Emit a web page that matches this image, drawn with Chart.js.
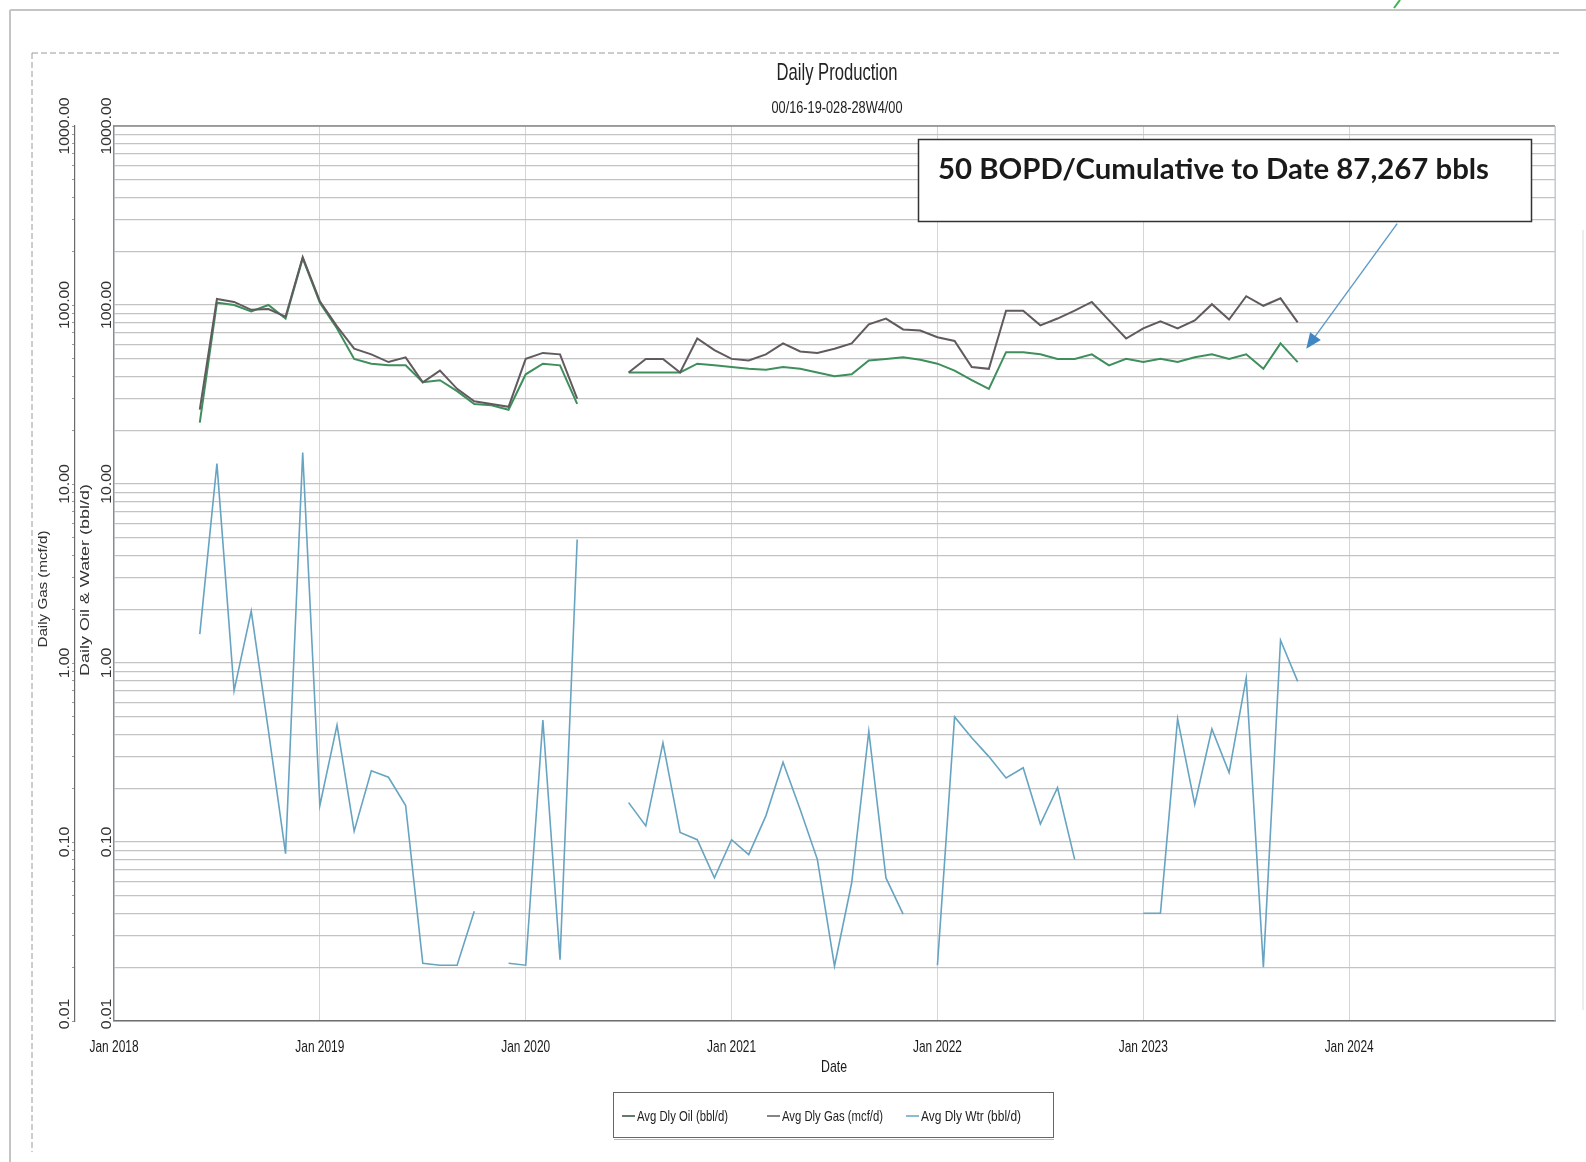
<!DOCTYPE html>
<html>
<head>
<meta charset="utf-8">
<script src="https://cdn.jsdelivr.net/npm/chart.js@4.4.1/dist/chart.umd.min.js"></script>
<style>
  html, body { margin: 0; padding: 0; background: #fff; }
  canvas { display: block; }
</style>
</head>
<body>
<canvas id="prod" width="1586" height="1162"></canvas>
<script>
// Reporting months for well 00/16-19-028-28W4/00
const months = [
  '2018-06','2018-07','2018-08','2018-09','2018-10','2018-11','2018-12',
  '2019-01','2019-02','2019-03','2019-04','2019-05','2019-06','2019-07','2019-08','2019-09','2019-10','2019-11','2019-12',
  '2020-01','2020-02','2020-03','2020-04','2020-05','2020-06','2020-07','2020-08','2020-09','2020-10','2020-11','2020-12',
  '2021-01','2021-02','2021-03','2021-04','2021-05','2021-06','2021-07','2021-08','2021-09','2021-10','2021-11','2021-12',
  '2022-01','2022-02','2022-03','2022-04','2022-05','2022-06','2022-07','2022-08','2022-09','2022-10','2022-11','2022-12',
  '2023-01','2023-02','2023-03','2023-04','2023-05','2023-06','2023-07','2023-08','2023-09','2023-10'
];

// Average daily oil (bbl/d); null = no production reported
const oilBbld = [
  22, 103, 100, 92, 100, 84, 182,
  103, 74, 50, 47, 46, 46, 37, 38, 33, 28, 27.5, 26,
  41, 47, 46, 28, null, null, 42, 42, 42, 42, 47, 46,
  45, 44, 43.5, 45, 44, 42, 40, 41, 49, 50, 51, 49.5,
  47, 43, 38, 34, 54.5, 54.5, 53, 50, 50, 53, 46, 50,
  48, 50, 48, 51, 53, 50, 53, 44, 61, 48
];

// Average daily gas (mcf/d)
const gasMcfd = [
  26, 108, 104, 94, 95, 86, 185,
  105, 76, 57, 53, 48, 51, 37, 43, 34, 29, 28, 27,
  50, 54, 53, 30, null, null, 42, 50, 50, 42, 65, 56,
  50, 49, 53, 61, 55, 54, 57, 61, 78, 84, 73, 72,
  66, 63, 45, 44, 93, 93, 77, 84, 93, 104, 82, 65,
  74, 81, 74, 82, 101, 83, 112, 99, 109, 80
];

// Average daily water (bbl/d)
const waterBbld = [
  1.45, 13, 0.7, 1.95, 0.42, 0.086, 15,
  0.16, 0.45, 0.115, 0.25, 0.23, 0.16, 0.021, 0.0205, 0.0205, 0.041, null, 0.021,
  0.0205, 0.48, 0.022, 4.9, null, null, 0.166, 0.123, 0.358, 0.113, 0.103, 0.063,
  0.103, 0.085, 0.14, 0.279, 0.152, 0.08, 0.0203, 0.059, 0.416, 0.063, 0.0395, null,
  0.0205, 0.5, 0.382, 0.3, 0.228, 0.26, 0.126, 0.201, 0.08, null, null, null,
  0.04, 0.04, 0.487, 0.162, 0.428, 0.244, 0.825, 0.02, 1.34, 0.79
];

// Axis ticks
const yearTickLabels = ['Jan 2018','Jan 2019','Jan 2020','Jan 2021','Jan 2022','Jan 2023','Jan 2024'];
const yearTickMonths = [0, 12, 24, 36, 48, 60, 72, 84];
const logDecades = [0.01, 0.1, 1, 10, 100, 1000];
const decadeLabels = ['0.01', '0.10', '1.00', '10.00', '100.00', '1000.00'];
const gridSignificands = [1, 2, 3, 4, 5, 6, 7, 8, 9];

const annotationText = '50 BOPD/Cumulative to Date 87,267 bbls';

// months since Jan 2018
function monthIndex(s) {
  const [y, m] = s.split('-').map(Number);
  return (y - 2018) * 12 + (m - 1);
}
function toPoints(values) {
  return months.map((m, i) => ({ x: monthIndex(m), y: values[i] }));
}

// every 1..9 x 10^k line between 0.01 and 1000
function logGridTicks() {
  const out = [];
  for (let d = 0; d < logDecades.length - 1; d++) {
    for (const s of gridSignificands) out.push({ value: +(logDecades[d] * s).toPrecision(6) });
  }
  out.push({ value: logDecades[logDecades.length - 1] });
  return out;
}

const BASE_FONT = '"Liberation Sans", Arial, sans-serif';

// draw text squeezed/stretched horizontally to a target width
function fitText(ctx, text, x, y, font, targetW, align, rot) {
  ctx.save();
  ctx.font = font;
  const w = ctx.measureText(text).width;
  ctx.translate(x, y);
  if (rot) ctx.rotate(rot);
  ctx.scale(targetW / w, 1);
  ctx.textAlign = align || 'center';
  ctx.textBaseline = 'middle';
  ctx.fillText(text, 0, 0);
  ctx.restore();
}
function scaledText(ctx, text, x, y, font, sx, align, rot) {
  ctx.save();
  ctx.font = font;
  ctx.translate(x, y);
  if (rot) ctx.rotate(rot);
  ctx.scale(sx, 1);
  ctx.textAlign = align || 'center';
  ctx.textBaseline = 'middle';
  ctx.fillText(text, 0, 0);
  ctx.restore();
}

const decor = {
  id: 'decor',
  beforeDraw(chart) {
    const ctx = chart.ctx;
    ctx.save();
    ctx.fillStyle = '#fff';
    ctx.fillRect(0, 0, chart.width, chart.height);
    // page edges
    ctx.strokeStyle = '#c4c4c4';
    ctx.lineWidth = 2;
    ctx.beginPath();
    ctx.moveTo(10, 10); ctx.lineTo(1586, 10);
    ctx.moveTo(10, 10); ctx.lineTo(10, 1162);
    ctx.stroke();
    // outer chart frame (dashed)
    ctx.strokeStyle = '#9a9a9a';
    ctx.lineWidth = 1;
    ctx.setLineDash([6, 3]);
    ctx.beginPath();
    ctx.moveTo(32, 53); ctx.lineTo(1562, 53);
    ctx.moveTo(32, 53); ctx.lineTo(32, 1152);
    ctx.stroke();
    ctx.setLineDash([]);
    ctx.strokeStyle = '#dcdcdc';
    ctx.beginPath();
    ctx.moveTo(1583, 230); ctx.lineTo(1583, 1010);
    ctx.stroke();
    // small green mark at the page top
    ctx.strokeStyle = '#3fb34f';
    ctx.lineWidth = 2;
    ctx.beginPath();
    ctx.moveTo(1400, 0); ctx.lineTo(1394, 8);
    ctx.stroke();
    ctx.restore();
  },
  afterDraw(chart) {
    const ctx = chart.ctx;
    const a = chart.chartArea;
    const xs = chart.scales.x, ys = chart.scales.y, y2 = chart.scales.y2;
    ctx.save();

    // plot frame top / right
    ctx.strokeStyle = '#8a8a8a';
    ctx.lineWidth = 1.5;
    ctx.beginPath();
    ctx.moveTo(a.left, a.top); ctx.lineTo(a.right, a.top);
    ctx.stroke();
    ctx.strokeStyle = '#b8c4ca';
    ctx.lineWidth = 1;
    ctx.beginPath();
    ctx.moveTo(a.right, a.top); ctx.lineTo(a.right, a.bottom);
    ctx.stroke();

    // title block
    ctx.fillStyle = '#222';
    fitText(ctx, 'Daily Production', 837, 73, '24px ' + BASE_FONT, 121);
    fitText(ctx, '00/16-19-028-28W4/00', 837, 108, '17px ' + BASE_FONT, 131);

    // y tick labels, rotated (two stacked axes)
    ctx.fillStyle = '#333';
    ctx.font = '14px ' + BASE_FONT;
    const tickScale = 57 / ctx.measureText('1000.00').width;
    logDecades.forEach((v, i) => {
      let py = ys.getPixelForValue(v);
      if (i === 0) py -= 7;
      scaledText(ctx, decadeLabels[i], 107, py, '14px ' + BASE_FONT, tickScale, 'center', -Math.PI / 2);
      let py2 = y2.getPixelForValue(v);
      if (i === 0) py2 -= 7;
      scaledText(ctx, decadeLabels[i], 65, py2, '14px ' + BASE_FONT, tickScale, 'center', -Math.PI / 2);
    });
    // y axis titles
    ctx.fillStyle = '#333';
    fitText(ctx, 'Daily Gas (mcf/d)', 43, 589, '13px ' + BASE_FONT, 117, 'center', -Math.PI / 2);
    fitText(ctx, 'Daily Oil & Water (bbl/d)', 85, 580, '13px ' + BASE_FONT, 192, 'center', -Math.PI / 2);

    // x tick labels
    ctx.fillStyle = '#1a1a1a';
    ctx.font = '17px ' + BASE_FONT;
    const xScaleF = 49 / ctx.measureText('Jan 2019').width;
    yearTickLabels.forEach((t, i) => {
      scaledText(ctx, t, xs.getPixelForValue(yearTickMonths[i]), 1047, '17px ' + BASE_FONT, xScaleF);
    });
    fitText(ctx, 'Date', 834, 1067, '17px ' + BASE_FONT, 26);

    // legend box
    ctx.strokeStyle = '#666';
    ctx.lineWidth = 1;
    ctx.strokeRect(613.5, 1092.5, 440, 45);
    ctx.strokeStyle = '#bbb';
    ctx.beginPath();
    ctx.moveTo(614, 1139.5); ctx.lineTo(1054, 1139.5);
    ctx.stroke();
    const legendX = [622, 767, 906];
    const legendW = [91, 101, 100];
    chart.data.datasets.forEach((ds, i) => {
      const lx = legendX[i];
      ctx.strokeStyle = i === 0 ? '#2f4f3c' : ds.borderColor;
      ctx.lineWidth = 1.5;
      ctx.beginPath();
      ctx.moveTo(lx, 1116); ctx.lineTo(lx + 13, 1116);
      ctx.stroke();
      ctx.fillStyle = '#222';
      fitText(ctx, ds.label, lx + 15, 1117, '15px ' + BASE_FONT, legendW[i], 'left');
    });

    // annotation box
    ctx.fillStyle = '#fff';
    ctx.fillRect(918, 139, 613, 82);
    ctx.strokeStyle = '#333';
    ctx.lineWidth = 1.5;
    ctx.strokeRect(918.5, 139.5, 613, 82);
    ctx.fillStyle = '#1a1a1a';
    fitText(ctx, annotationText, 938, 170, 'bold 28px Lato, "Open Sans", sans-serif', 551, 'left');

    // arrow pointing at the latest oil rate
    const tx = xs.getPixelForValue(69.5), ty = ys.getPixelForValue(57);
    const sx = xs.getPixelForValue(74.8), sy = ys.getPixelForValue(285);
    const ang = Math.atan2(ty - sy, tx - sx);
    const head = 17;
    ctx.strokeStyle = '#5d9bc9';
    ctx.fillStyle = '#3f86c4';
    ctx.lineWidth = 1.4;
    ctx.beginPath();
    ctx.moveTo(sx, sy);
    ctx.lineTo(tx - Math.cos(ang) * head * 0.8, ty - Math.sin(ang) * head * 0.8);
    ctx.stroke();
    ctx.beginPath();
    ctx.moveTo(tx, ty);
    ctx.lineTo(tx - head * Math.cos(ang - 0.4), ty - head * Math.sin(ang - 0.4));
    ctx.lineTo(tx - head * Math.cos(ang + 0.4), ty - head * Math.sin(ang + 0.4));
    ctx.closePath();
    ctx.fill();

    ctx.restore();
  }
};

const logAxis = (extra) => Object.assign({
  type: 'logarithmic',
  position: 'left',
  min: 0.01,
  max: 1000,
  ticks: { display: false, autoSkip: false },
  afterBuildTicks(scale) { scale.ticks = logGridTicks(); }
}, extra);

new Chart(document.getElementById('prod'), {
  type: 'line',
  data: {
    datasets: [
      {
        label: 'Avg Dly Oil (bbl/d)',
        data: toPoints(oilBbld),
        yAxisID: 'y',
        borderColor: '#3f8f5c',
        borderWidth: 2,
        order: 1
      },
      {
        label: 'Avg Dly Gas (mcf/d)',
        data: toPoints(gasMcfd),
        yAxisID: 'y2',
        borderColor: '#615a5e',
        borderWidth: 2,
        order: 0
      },
      {
        label: 'Avg Dly Wtr (bbl/d)',
        data: toPoints(waterBbld),
        yAxisID: 'y',
        borderColor: '#67a4c2',
        borderWidth: 1.6,
        order: 2
      }
    ]
  },
  options: {
    responsive: false,
    animation: false,
    devicePixelRatio: 1,
    spanGaps: false,
    elements: { point: { radius: 0 }, line: { tension: 0 } },
    layout: { padding: { left: 35, right: 31, top: 126, bottom: 71 } },
    plugins: { legend: { display: false }, title: { display: false }, tooltip: { enabled: false } },
    scales: {
      x: {
        type: 'linear',
        min: 0,
        max: 84,
        ticks: { display: false },
        afterBuildTicks(scale) { scale.ticks = yearTickMonths.map(v => ({ value: v })); },
        grid: { color: '#cdd8de', lineWidth: 1, drawTicks: false },
        border: { color: '#6f6f6f', width: 1.5 },
        afterFit(scale) { scale.height = 70; }
      },
      y: logAxis({
        weight: 0,
        grid: { color: '#c3c3c3', lineWidth: 1.2, drawTicks: false },
        border: { color: '#8a8a8a', width: 1.2 },
        afterFit(scale) { scale.width = 39; }
      }),
      y2: logAxis({
        weight: 1,
        grid: { drawOnChartArea: false, drawTicks: true, tickLength: 3, color: '#9a9a9a' },
        border: { color: '#6a6a6a', width: 1.2 },
        afterFit(scale) { scale.width = 40; }
      })
    }
  },
  plugins: [decor]
});
</script>
</body>
</html>
